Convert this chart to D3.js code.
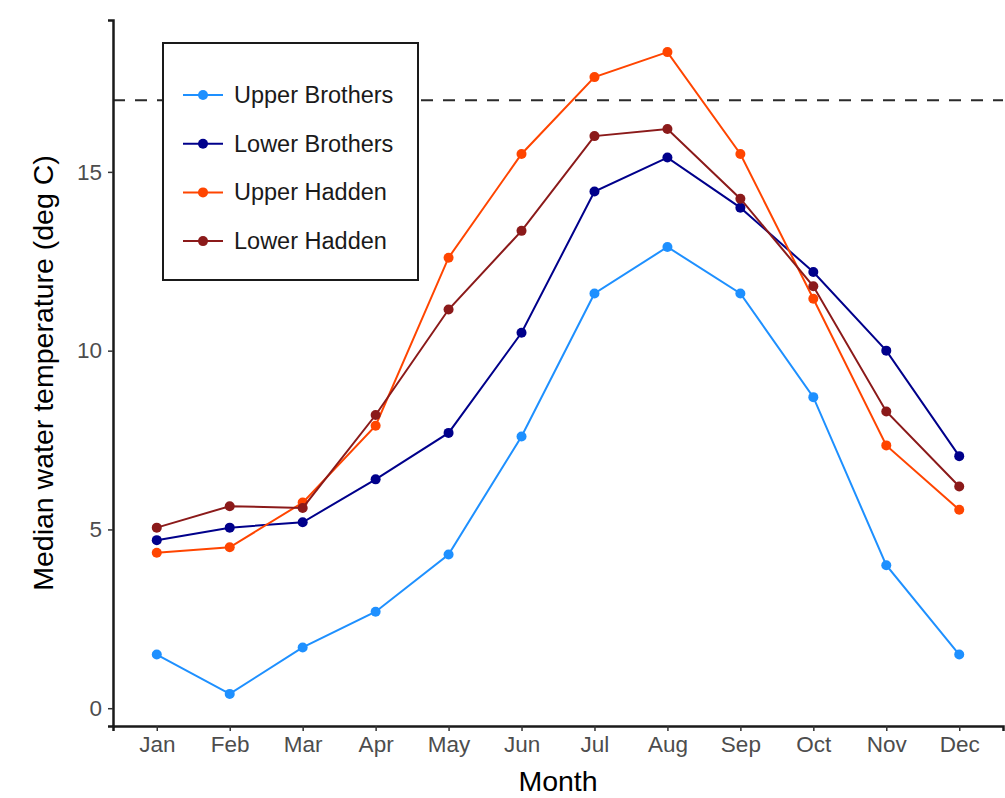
<!DOCTYPE html>
<html>
<head>
<meta charset="utf-8">
<script src="https://cdn.jsdelivr.net/npm/d3@7"></script>
<style>
    body { margin: 0; background: #ffffff; }
    svg { display: block; font-family: "Liberation Sans", Arial, sans-serif; }
    .axis--text { fill: #4d4d4d; font-size: 22.5px; }
    .axis--title { fill: #000000; font-size: 28.5px; }
    .legend--text { fill: #1a1a1a; font-size: 23.5px; }
</style>
</head>
<body>
<div id="chart"></div>
<script>
const months = ["Jan", "Feb", "Mar", "Apr", "May", "Jun", "Jul", "Aug", "Sep", "Oct", "Nov", "Dec"];
const siteNames = ["Upper Brothers", "Lower Brothers", "Upper Hadden", "Lower Hadden"];
const siteColors = ["#1e90ff", "#00008b", "#ff4500", "#8b1a1a"];

const upperBrothers = [1.5, 0.4, 1.7, 2.7, 4.3, 7.6, 11.6, 12.9, 11.6, 8.7, 4.0, 1.5];
const lowerBrothers = [4.7, 5.05, 5.2, 6.4, 7.7, 10.5, 14.45, 15.4, 14.0, 12.2, 10.0, 7.05];
const upperHadden = [4.35, 4.5, 5.75, 7.9, 12.6, 15.5, 17.65, 18.35, 15.5, 11.45, 7.35, 5.55];
const lowerHadden = [5.05, 5.65, 5.6, 8.2, 11.15, 13.35, 16.0, 16.2, 14.25, 11.8, 8.3, 6.2];

const yTicks = [0, 5, 10, 15];
const threshold = 17;

const width = 1005;
const height = 798;
const margin = {top: 20, right: 2, bottom: 72, left: 113};

const series = [upperBrothers, lowerBrothers, upperHadden, lowerHadden].map(function(values, i) {
    return {name: siteNames[i], color: siteColors[i], values: values};
});

const svg = d3.select("#chart")
    .append("svg")
    .attr("width", width)
    .attr("height", height);

// scales, with ggplot style 5% expansion on y
const allValues = d3.merge(series.map(d => d.values)).concat([threshold]);
const yMin = d3.min(allValues);
const yMax = d3.max(allValues);
const pad = (yMax - yMin) * 0.05;

const xScale = d3.scalePoint()
    .domain(months)
    .range([margin.left, width - margin.right])
    .padding(0.6);

const yScale = d3.scaleLinear()
    .domain([yMin - pad, yMax + pad])
    .range([height - margin.bottom, margin.top]);

// threshold line
svg.append("line")
    .attr("x1", margin.left)
    .attr("x2", width - margin.right)
    .attr("y1", yScale(threshold))
    .attr("y2", yScale(threshold))
    .attr("stroke", "#2a2a2a")
    .attr("stroke-width", 2)
    .attr("stroke-dasharray", "12,10");

// lines and points
const line = d3.line()
    .x((d, i) => xScale(months[i]))
    .y(d => yScale(d));

series.forEach(function(s) {
    svg.append("path")
        .attr("d", line(s.values))
        .attr("fill", "none")
        .attr("stroke", s.color)
        .attr("stroke-width", 2);

    svg.selectAll(null)
        .data(s.values)
        .enter()
        .append("circle")
        .attr("cx", (d, i) => xScale(months[i]))
        .attr("cy", d => yScale(d))
        .attr("r", 5)
        .attr("fill", s.color);
});

// axes
const xAxis = svg.append("g")
    .attr("transform", `translate(0,${height - margin.bottom})`)
    .call(d3.axisBottom(xScale).tickSize(5).tickPadding(5));

const yAxis = svg.append("g")
    .attr("transform", `translate(${margin.left},0)`)
    .call(d3.axisLeft(yScale).tickValues(yTicks).tickSize(5).tickPadding(6));

[xAxis, yAxis].forEach(function(ax) {
    ax.select(".domain")
        .attr("stroke", "#1a1a1a")
        .attr("stroke-width", 2.5);
    ax.selectAll(".tick line")
        .attr("stroke", "#333333")
        .attr("stroke-width", 1.5);
    ax.selectAll(".tick text")
        .attr("class", "axis--text")
        .attr("font-family", null)
        .attr("font-size", null)
        .attr("fill", null);
});

// axis titles
svg.append("text")
    .attr("class", "axis--title")
    .attr("x", (margin.left + width - margin.right) / 2)
    .attr("y", 791)
    .attr("text-anchor", "middle")
    .text("Month");

svg.append("text")
    .attr("class", "axis--title")
    .attr("transform", `translate(53,${(margin.top + height - margin.bottom) / 2}) rotate(-90)`)
    .attr("text-anchor", "middle")
    .text("Median water temperature (deg C)");

// legend
const legend = svg.append("g")
    .attr("transform", "translate(163,43)");

legend.append("rect")
    .attr("width", 255)
    .attr("height", 237)
    .attr("fill", "#ffffff")
    .attr("stroke", "#1a1a1a")
    .attr("stroke-width", 2);

series.forEach(function(s, i) {
    const y = 52 + 48.7 * i;

    legend.append("line")
        .attr("x1", 20)
        .attr("x2", 60)
        .attr("y1", y)
        .attr("y2", y)
        .attr("stroke", s.color)
        .attr("stroke-width", 2);

    legend.append("circle")
        .attr("cx", 40)
        .attr("cy", y)
        .attr("r", 5)
        .attr("fill", s.color);

    legend.append("text")
        .attr("class", "legend--text")
        .attr("x", 71)
        .attr("y", y + 8)
        .text(s.name);
});
</script>
</body>
</html>
